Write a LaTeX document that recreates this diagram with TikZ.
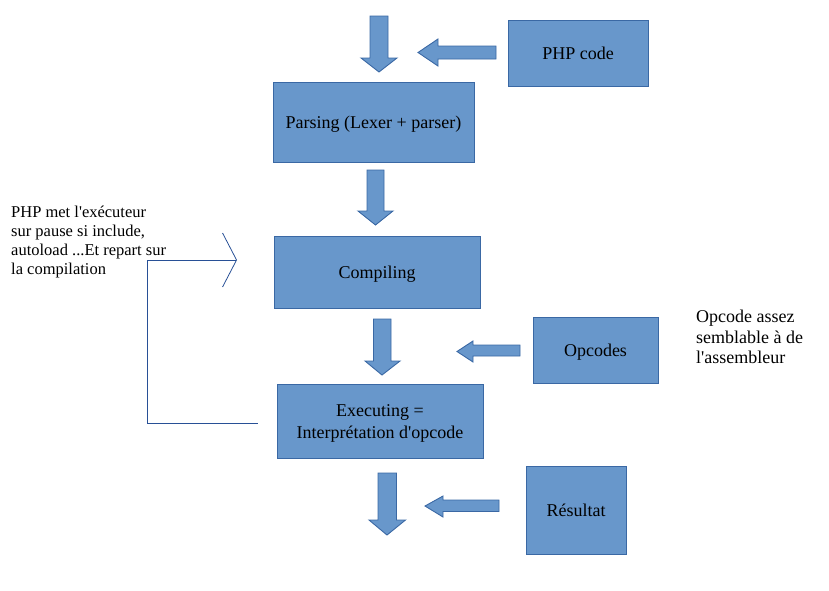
\documentclass[tikz,border=0pt]{standalone}
\usepackage{fontspec}
\setmainfont{Liberation Serif}
\usepackage{xcolor}
\usetikzlibrary{arrows.meta}
\definecolor{boxfill}{RGB}{104,151,203}
\definecolor{boxline}{RGB}{58,104,164}
\definecolor{loopline}{RGB}{40,80,150}
\tikzset{
  box/.style={draw=boxline,fill=boxfill,line width=0.9pt,inner sep=0pt,
    font=\fontsize{18}{22}\selectfont,align=center,text height=16pt,text depth=3.9pt},
  bigarrow/.style={draw=boxline,fill=boxfill,line width=0.9pt,line join=miter},
  note/.style={anchor=north west,inner sep=0pt,align=left},
  back/.style={draw=loopline,line width=0.8pt}
}
\begin{document}
\begin{tikzpicture}[x=1pt,y=-1pt]
\useasboundingbox (0,0) rectangle (829,590);

\node[box,minimum width=140pt,minimum height=66pt] (php) at (578,53) {PHP code};
\node[box,minimum width=201pt,minimum height=80pt] (parse) at (373.5,122) {Parsing (Lexer + parser)};
\node[box,minimum width=206pt,minimum height=72pt] (comp) at (377,272) {Compiling};
\node[box,minimum width=206pt,minimum height=74pt,text height=,text depth=] (exec) at (380,421)
  {\raisebox{-2.5pt}[\height][\depth]{Executing =}\\\raisebox{-2.5pt}[\height][\depth]{Interprétation d\textquotesingle opcode}};
\node[box,minimum width=125pt,minimum height=66pt] (opc) at (595.5,350) {Opcodes};
\node[box,minimum width=100pt,minimum height=88pt] (res) at (576,510) {Résultat};

% block arrows
\draw[bigarrow] (370,16) -- (388,16) -- (388,58) -- (397,58) -- (379,72) -- (361,58) -- (370,58) -- cycle;
\draw[bigarrow] (367,170) -- (384,170) -- (384,211) -- (393,211) -- (375.5,225) -- (358,211) -- (367,211) -- cycle;
\draw[bigarrow] (373.5,319) -- (391,319) -- (391,361) -- (400,361) -- (382,375) -- (365,361) -- (373.5,361) -- cycle;
\draw[bigarrow] (378,473) -- (396.5,473) -- (396.5,520) -- (405.5,520) -- (387,535) -- (369,520) -- (378,520) -- cycle;

\draw[bigarrow] (496,46) -- (438,46) -- (438,39) -- (418,52.5) -- (438,66) -- (438,59) -- (496,59) -- cycle;
\draw[bigarrow] (520,345) -- (473,345) -- (473,341) -- (457,351.5) -- (473,362) -- (473,356) -- (520,356) -- cycle;
\draw[bigarrow] (499,500) -- (443,500) -- (443,496) -- (425,506) -- (443,517) -- (443,511.5) -- (499,511.5) -- cycle;

% loop back to compiling
\coordinate (loopend) at (237,260);
\coordinate (loopstart) at ([xshift=-19pt]exec.west |- 0,423);
\draw[back,-{Straight Barb[length=14pt,width=54pt,line width=0.8pt]}] (loopstart) -- (147,423) |- (loopend);

\node[note,font=\fontsize{16.5}{19}\selectfont] (pause) at (11,206)
  {PHP met l\textquotesingle exécuteur\\sur pause si include,\\autoload ...Et repart sur\\la compilation};
\node[note,font=\fontsize{18}{20.5}\selectfont] (asm) at (696,310)
  {Opcode assez\\semblable à de\\l\textquotesingle assembleur};
\end{tikzpicture}
\end{document}
